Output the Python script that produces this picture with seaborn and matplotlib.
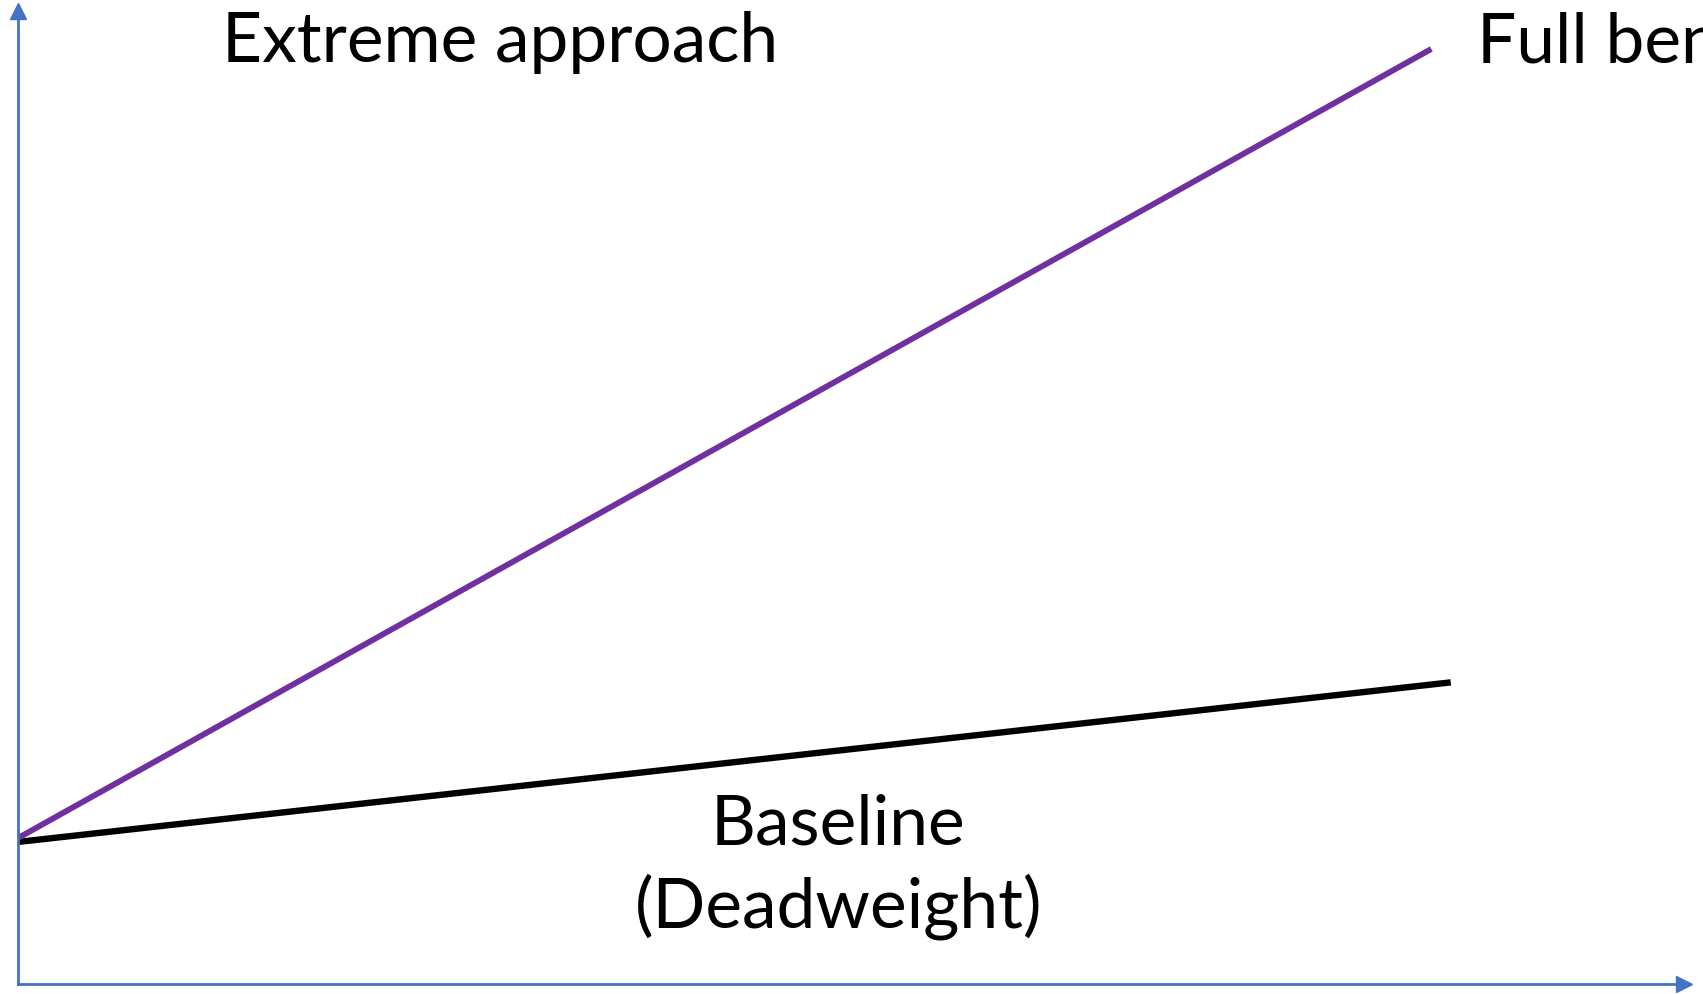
import matplotlib
matplotlib.use("Agg")
import matplotlib.pyplot as plt
import seaborn as sns
import pandas as pd

# Scenario lines: start and end points in abstract (time, outcome) units
time_full = [0.0, 10.18]
outcome_full = [1.50, 9.61]
time_base = [0.0, 10.32]
outcome_base = [1.46, 3.10]

label_top_left = "Extreme approach"
label_top_right = "Full benefit"
label_base = ["Baseline", "(Deadweight)"]

purple = "#7030A0"
axis_blue = "#4472C4"

sns.set_theme(style="white")
plt.rcParams["font.family"] = ["Lato", "DejaVu Sans"]

W, H = 1703, 995
fig = plt.figure(figsize=(W / 100, H / 100), dpi=100)
left, right, bottom, top = 18, 1684, 985, 12
ax = fig.add_axes([left / W, 1 - bottom / H, (right - left) / W, (bottom - top) / H])

df = pd.concat([
    pd.DataFrame({"t": time_base, "v": outcome_base, "s": "base"}),
    pd.DataFrame({"t": time_full, "v": outcome_full, "s": "full"}),
])
sns.lineplot(data=df[df.s == "base"], x="t", y="v", color="black", ax=ax)
sns.lineplot(data=df[df.s == "full"], x="t", y="v", color=purple, ax=ax)
base_line, full_line = ax.get_lines()[:2]
base_line.set_linewidth(4.6)
full_line.set_linewidth(4.2)
for line in (base_line, full_line):
    line.set_solid_capstyle("butt")

ax.set_xlim(0, 12)
ax.set_ylim(0, 10)
ax.set_xticks([])
ax.set_yticks([])
ax.set_xlabel("")
ax.set_ylabel("")
for side in ("top", "right"):
    ax.spines[side].set_visible(False)
for side in ("left", "bottom"):
    ax.spines[side].set_color(axis_blue)
    ax.spines[side].set_linewidth(2.0)
ax.patch.set_alpha(0)

# Arrowheads at the ends of the axes
ax.plot(1, 0, ">", color=axis_blue, ms=12, transform=ax.transAxes, clip_on=False)
ax.plot(0, 1, "^", color=axis_blue, ms=12, transform=ax.transAxes, clip_on=False)

fs = 50
ax.text(0.1225, 0.9486, label_top_left, transform=ax.transAxes, fontsize=fs,
        ha="left", va="baseline", color="black")
ax.text(0.8758, 0.9486, label_top_right, transform=ax.transAxes, fontsize=fs,
        ha="left", va="baseline", color="black", clip_on=False)
ax.text(0.4919, 0.1439, label_base[0], transform=ax.transAxes, fontsize=fs,
        ha="center", va="baseline", color="black")
ax.text(0.4925, 0.0596, label_base[1], transform=ax.transAxes, fontsize=fs,
        ha="center", va="baseline", color="black")

fig.savefig("out.png", dpi=100)
